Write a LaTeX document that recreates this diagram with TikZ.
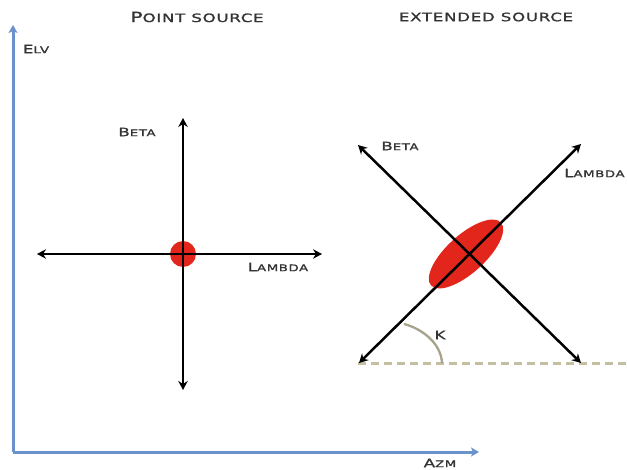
\documentclass[tikz,border=0pt]{standalone}
\usepackage{fontspec}
\newfontfamily\cpf[FakeStretch=1.45,LetterSpace=6,FakeBold=1.2]{DejaVu Sans}
\usetikzlibrary{arrows.meta}
\definecolor{axisblue}{HTML}{6A92CC}
\definecolor{srcred}{HTML}{E2261B}
\definecolor{beige}{HTML}{C4BFA2}
\definecolor{txtgray}{HTML}{333333}
\newcommand\capA[1]{{\fontsize{14}{14}\selectfont #1}}
\newcommand\smA[1]{{\fontsize{11.5}{12}\selectfont #1}}
\newcommand\capB[1]{{\fontsize{11.5}{11}\selectfont #1}}
\newcommand\smB[1]{{\fontsize{9.2}{10}\selectfont #1}}
\tikzset{
  lbl/.style={font=\cpf, text=txtgray, inner sep=0pt},
  axisline/.style={draw=axisblue, line width=3pt, -{Stealth[length=8pt,width=9pt,inset=2pt]}},
  dirline/.style={draw=black, line width=2.5pt, {Stealth[length=9pt,width=9.5pt,inset=3pt]}-{Stealth[length=9pt,width=9.5pt,inset=3pt]}},
}
\begin{document}
\begin{tikzpicture}[x=1pt,y=-1pt]
\useasboundingbox (0,0) rectangle (627,470);
% blue axes
\coordinate (org) at (13,452);
\coordinate (elvtip) at (13,25);
\coordinate (azmtip) at (479,452);
\draw[axisline] (org) -- (elvtip);
\draw[axisline] (org) -- (azmtip);
\node[lbl] (elv) at (36,49) {\capB{E}\smB{LV}};
\node[lbl] (azm) at (440,463) {\capB{A}\smB{ZM}};
% titles
\node[lbl] (t1) at (197,17) {\capA{P}\smA{OINT SOURCE}};
\node[lbl] (t2) at (486,17) {\smA{EXTENDED SOURCE}};
% point source
\coordinate (pc) at (183,254);
\coordinate (pt) at (183,118);
\coordinate (pb) at (183,390);
\coordinate (pl) at (37,254);
\coordinate (pr) at (322,254);
\fill[srcred] (pc) circle[radius=13];
\draw[dirline] (pt) -- (pb);
\draw[dirline] (pl) -- (pr);
\node[lbl] (beta1) at (137,132) {\capB{B}\smB{ETA}};
\node[lbl] (lam1) at (278,267) {\capB{L}\smB{AMBDA}};
% extended source
\coordinate (ec) at (466,254);
\fill[srcred, rotate around={42:(ec)}] (ec) ellipse[x radius=47, y radius=19];
\coordinate (btl) at (358,145);
\coordinate (bbr) at (581,363);
\coordinate (lbl) at (359,363);
\coordinate (ltr) at (581,144);
\draw[beige, line width=3pt, dash pattern=on 8pt off 5pt] (358,364) -- (627,364);
\draw[dirline] (btl) -- (bbr);
\draw[dirline] (lbl) -- (ltr);
\coordinate (arcs) at (404,324);
\coordinate (arce) at (442,363);
\draw[beige!85!black, line width=2.3pt] (arcs) .. controls (420,328) and (441,342) .. (arce);
\node[lbl] (kap) at (440,335) {\capB{K}};
\node[lbl] (beta2) at (400,146) {\capB{B}\smB{ETA}};
\node[lbl, anchor=west] (lam2) at (564,173) {\capB{L}\smB{AMBDA}};
\end{tikzpicture}
\end{document}
